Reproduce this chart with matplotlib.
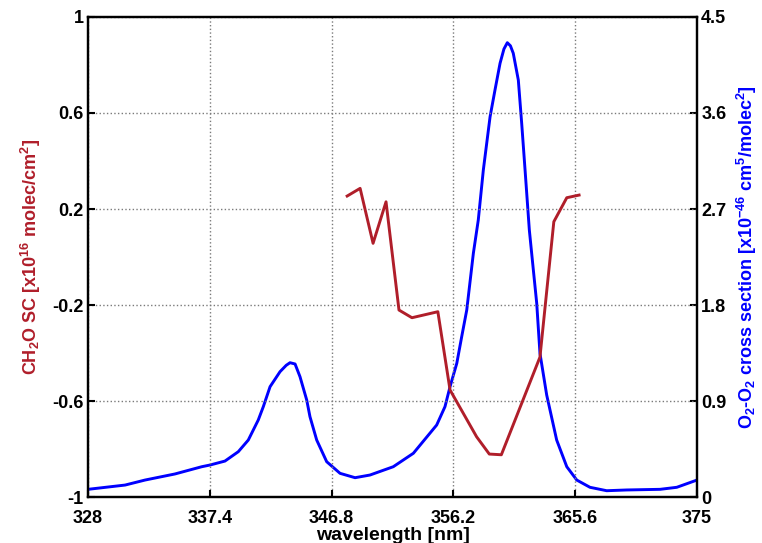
import matplotlib
matplotlib.use("Agg")
import matplotlib.pyplot as plt

plt.rcParams['font.family'] = ['Liberation Sans', 'DejaVu Sans']
plt.rcParams['font.weight'] = 'bold'
plt.rcParams['mathtext.fontset'] = 'custom'
plt.rcParams['mathtext.rm'] = 'Liberation Sans:bold'
plt.rcParams['mathtext.it'] = 'Liberation Sans:bold'
plt.rcParams['mathtext.bf'] = 'Liberation Sans:bold'
plt.rcParams['mathtext.default'] = 'bf'

# CH2O slant column (left axis)
ch2o_wl = [348.0, 349.0, 350.0, 351.0, 352.0, 353.0, 355.0, 355.94,
           357.99, 358.97, 359.9, 362.88, 363.95, 364.95, 365.9]
ch2o_sc = [0.254, 0.286, 0.057, 0.230, -0.221, -0.253, -0.228, -0.554,
           -0.749, -0.821, -0.824, -0.417, 0.147, 0.247, 0.258]

# O2-O2 absorption cross section (right axis)
o4_wl = [328.0, 330.86, 332.40, 334.71, 336.78, 337.42, 338.57, 339.60,
         340.37, 341.14, 341.53, 342.05, 342.82, 343.30, 343.59, 343.98,
         344.36, 344.88, 345.13, 345.65, 346.42, 347.45, 348.61, 349.76,
         351.56, 353.11, 354.91, 355.55, 355.94, 356.46, 356.84, 357.23,
         357.74, 358.12, 358.51, 359.03, 359.41, 359.80, 360.10, 360.36,
         360.60, 360.82, 361.21, 361.47, 361.73, 362.06, 362.37, 362.63,
         362.88, 363.40, 364.17, 364.95, 365.72, 366.74, 368.03, 369.58,
         372.15, 373.44, 375.0]
o4_xs = [0.072, 0.112, 0.159, 0.216, 0.284, 0.300, 0.337, 0.425,
         0.534, 0.722, 0.847, 1.034, 1.175, 1.235, 1.259, 1.247,
         1.128, 0.909, 0.753, 0.534, 0.331, 0.222, 0.181, 0.206,
         0.284, 0.410, 0.675, 0.847, 1.034, 1.253, 1.503, 1.753,
         2.285, 2.597, 3.066, 3.565, 3.816, 4.066, 4.200, 4.259,
         4.230, 4.160, 3.909, 3.503, 3.066, 2.503, 2.128, 1.816,
         1.347, 0.956, 0.534, 0.284, 0.159, 0.091, 0.059, 0.066,
         0.072, 0.091, 0.159]

x_ticks = [328, 337.4, 346.8, 356.2, 365.6, 375]
left_ticks = [-1, -0.6, -0.2, 0.2, 0.6, 1]
right_ticks = [0, 0.9, 1.8, 2.7, 3.6, 4.5]

red = '#B01E2A'
blue = '#0000FF'
fs = 13

fig = plt.figure(figsize=(7.62, 5.43), dpi=100)
ax = fig.add_axes([0.1155, 0.0847, 0.7992, 0.884])
ax2 = ax.twinx()

ax.plot(ch2o_wl, ch2o_sc, color=red, lw=2.1, zorder=3)
ax2.plot(o4_wl, o4_xs, color=blue, lw=2.1)

ax.set_xlim(328, 375)
ax.set_ylim(-1, 1)
ax2.set_ylim(0, 4.5)
ax.set_xticks(x_ticks)
ax.set_xticklabels(['328', '337.4', '346.8', '356.2', '365.6', '375'])
ax.set_yticks(left_ticks)
ax.set_yticklabels(['-1', '-0.6', '-0.2', '0.2', '0.6', '1'])
ax2.set_yticks(right_ticks)
ax2.set_yticklabels(['0', '0.9', '1.8', '2.7', '3.6', '4.5'])

ax.grid(True, color='#7a7a7a', linestyle=':', linewidth=1.0)
ax.set_axisbelow(True)

for a in (ax, ax2):
    a.tick_params(direction='in', length=5, width=1.5, labelsize=fs, pad=3)
    for s in a.spines.values():
        s.set_linewidth(1.6)
ax.tick_params(axis='x', pad=9)
ax2.patch.set_visible(False)
ax.set_zorder(2)
ax.patch.set_visible(False)

ax.set_xlabel('wavelength [nm]', fontsize=14, fontweight='bold', labelpad=0)
ax.set_ylabel(r'CH$_2$O SC [x10$^{16}$ molec/cm$^2$]', color=red,
              fontsize=fs, fontweight='bold', labelpad=7)
ax2.set_ylabel(r'O$_2$-O$_2$ cross section [x10$^{-46}$ cm$^5$/molec$^2$]',
               color=blue, fontsize=fs, fontweight='bold', labelpad=6)

fig.savefig('out.png', dpi=100)
